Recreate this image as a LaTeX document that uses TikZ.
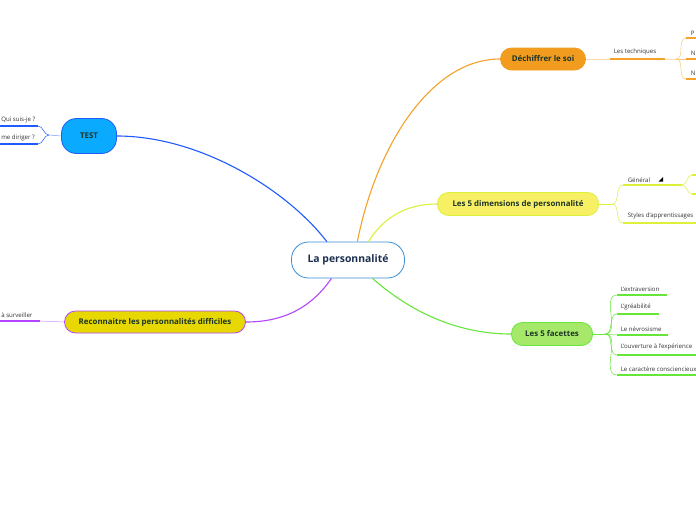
\documentclass[tikz,border=0pt]{standalone}
\usepackage{fontspec}
\setmainfont{Open Sans}
\usepackage{xcolor}
\usepackage{tikz}
\usetikzlibrary{positioning}

\definecolor{rootline}{HTML}{3A8FD6}
\definecolor{rootink}{HTML}{1B2E4F}
\definecolor{inktext}{HTML}{1E3528}
\definecolor{testfill}{HTML}{0AABFF}
\definecolor{testline}{HTML}{1F5BFF}
\definecolor{decfill}{HTML}{F19B1F}
\definecolor{decline}{HTML}{F6A22A}
\definecolor{dimfill}{HTML}{F8F064}
\definecolor{dimline}{HTML}{DDF03A}
\definecolor{facfill}{HTML}{A6E86A}
\definecolor{facline}{HTML}{66E63A}
\definecolor{recfill}{HTML}{E6D800}
\definecolor{recline}{HTML}{B245FF}

\begin{document}
\begin{tikzpicture}[
        x=1pt, y=-1pt,
        topic/.style={draw, rectangle, rounded corners=11pt, minimum height=22pt, inner sep=2pt, line width=0.8pt, align=center, text=inktext, font=\bfseries\fontsize{7.9}{9}\selectfont},
        sub/.style={anchor=south west, inner sep=0.6pt, text=black!80, font=\fontsize{6.1}{7}\selectfont},
        link/.style={line width=1.1pt},
        twig/.style={line width=0.5pt},
        uline/.style={line width=1.4pt}
    ]
        \useasboundingbox (0,0) rectangle (696,520);
        \clip (0,0) rectangle (696,520);
        \fill[white] (0,0) rectangle (696,520);

        \node[topic, fill=white, draw=rootline, minimum width=113pt, minimum height=36pt, rounded corners=17pt, text=rootink, font=\bfseries\fontsize{10.4}{12}\selectfont] (root) at (348,260) {La personnalité};
        \node[topic, fill=testfill, draw=testline, minimum width=55pt, minimum height=35pt, rounded corners=15pt] (test) at (89,136) {TEST};
        \node[topic, fill=decfill, draw=decfill, minimum width=85pt] (dechiffrer) at (543,59) {Déchiffrer le soi};
        \node[topic, fill=dimfill, draw=dimline, minimum width=161pt, minimum height=23pt] (dimensions) at (518,204) {Les 5 dimensions de personnalité};
        \node[topic, fill=facfill, draw=facline, minimum width=81pt, minimum height=23pt] (facettes) at (552,334) {Les 5 facettes};
        \node[topic, fill=recfill, draw=recline, minimum width=181pt] (reconnaitre) at (155,322) {Reconnaitre les personnalités difficiles};

        % main branches
        \draw[link, testline] (root.139) .. controls +(-40,-52) and +(83,0) .. (test.east);
        \draw[link, decline] (root.63) .. controls +(18,-92) and +(-71,0) .. (dechiffrer.west);
        \draw[link, dimline] (root.42) .. controls +(17,-27) and +(-28,0) .. (dimensions.west);
        \draw[link, facline] (root.323) .. controls +(48,42) and +(-42,0) .. (facettes.west);
        \draw[link, recline] (root.228) .. controls +(-22,32) and +(34,0) .. (reconnaitre.east);

        % TEST
        \coordinate (testfork) at (49,135);
        \coordinate (qui) at (38,126);
        \coordinate (quiend) at (-2,126);
        \coordinate (diriger) at (38,144);
        \coordinate (dirigerend) at (-2,144);
        \draw[twig, testline!60] (test.west) -- (testfork);
        \draw[twig, testline] (testfork) to[out=180, in=0] (qui);
        \draw[twig, testline] (testfork) to[out=180, in=0] (diriger);
        \draw[uline, testline] (qui) -- (quiend);
        \draw[uline, testline] (diriger) -- (dirigerend);
        \node[sub] (quilbl) at (0.5,124) {Qui suis-je ?};
        \node[sub] (dirigerlbl) at (0.5,142) {me diriger ?};

        % Dechiffrer le soi
        \coordinate (techA) at (610,59);
        \coordinate (techB) at (665,59);
        \coordinate (techfork) at (676,59);
        \coordinate (techP) at (686,38);
        \coordinate (techN) at (686,59);
        \coordinate (techM) at (686,79);
        \coordinate (techPend) at (700,38);
        \coordinate (techNend) at (700,59);
        \coordinate (techMend) at (700,79);
        \draw[twig, decline!40] (dechiffrer.east) -- (techA);
        \draw[uline, decline] (techA) -- (techB);
        \draw[twig, decline!40] (techB) -- (techfork);
        \draw[twig, decline!60] (techfork) to[out=0, in=180] (techP);
        \draw[twig, decline!60] (techfork) -- (techN);
        \draw[twig, decline!60] (techfork) to[out=0, in=180] (techM);
        \draw[uline, decline] (techP) -- (techPend);
        \draw[uline, decline] (techN) -- (techNend);
        \draw[uline, decline] (techM) -- (techMend);
        \node[sub] (techlbl) at (613,56) {Les techniques};
        \node[sub] (plbl) at (690,36) {P};
        \node[sub] (nlbl) at (690,56) {N};
        \node[sub] (mlbl) at (690,76) {N};

        % Les 5 dimensions
        \coordinate (dimfork) at (612,204);
        \coordinate (genA) at (623,185);
        \coordinate (genB) at (682,185);
        \coordinate (genup) at (692,175);
        \coordinate (gendown) at (692,194);
        \coordinate (genupend) at (700,175);
        \coordinate (gendownend) at (700,194);
        \coordinate (styA) at (623,223);
        \coordinate (styB) at (700,223);
        \draw[twig, dimline] (dimensions.east) -- (dimfork);
        \draw[twig, dimline] (dimfork) to[out=0, in=180] (genA);
        \draw[twig, dimline] (dimfork) to[out=0, in=180] (styA);
        \draw[uline, dimline] (genA) -- (genB);
        \draw[uline, dimline] (styA) -- (styB);
        \draw[twig, dimline] (genB) to[out=0, in=180] (genup);
        \draw[twig, dimline] (genB) to[out=0, in=180] (gendown);
        \draw[uline, dimline] (genup) -- (genupend);
        \draw[uline, dimline] (gendown) -- (gendownend);
        \node[sub] (genlbl) at (627,183) {Général};
        \fill[black] (658.5,181.5) -- (663,181.5) -- (663,177) -- cycle;
        \node[sub] (stylbl) at (627,220) {Styles d'apprentissages};

        % Les 5 facettes
        \coordinate (facfork) at (605,334);
        \coordinate (extA) at (617,295);
        \coordinate (extB) at (667,295);
        \coordinate (greA) at (617,314);
        \coordinate (greB) at (659,314);
        \coordinate (nevA) at (617,335);
        \coordinate (nevB) at (668,335);
        \coordinate (ouvA) at (617,355);
        \coordinate (ouvB) at (700,355);
        \coordinate (carA) at (617,375);
        \coordinate (carB) at (700,375);
        \draw[twig, facline] (facettes.east) -- (facfork);
        \draw[twig, facline] (facfork) to[out=0, in=180] (extA);
        \draw[twig, facline] (facfork) to[out=0, in=180] (greA);
        \draw[twig, facline] (facfork) to[out=0, in=180] (nevA);
        \draw[twig, facline] (facfork) to[out=0, in=180] (ouvA);
        \draw[twig, facline] (facfork) to[out=0, in=180] (carA);
        \draw[uline, facline] (extA) -- (extB);
        \draw[uline, facline] (greA) -- (greB);
        \draw[uline, facline] (nevA) -- (nevB);
        \draw[uline, facline] (ouvA) -- (ouvB);
        \draw[uline, facline] (carA) -- (carB);
        \node[sub] (extlbl) at (620,292) {L'extraversion};
        \node[sub] (grelbl) at (620,311) {L'gréabilité};
        \node[sub] (nevlbl) at (620,332) {Le névrosisme};
        \node[sub] (ouvlbl) at (620,351) {L'ouverture à l'expérience};
        \node[sub] (carlbl) at (620,372) {Le caractère consciencieux};

        % Reconnaitre
        \coordinate (survA) at (40,321);
        \coordinate (survB) at (-2,321);
        \draw[twig, recline!60] (reconnaitre.west) -- (survA);
        \draw[uline, recline] (survA) -- (survB);
        \node[sub] (survlbl) at (0.5,318) {à surveiller};
    \end{tikzpicture}
\end{document}
